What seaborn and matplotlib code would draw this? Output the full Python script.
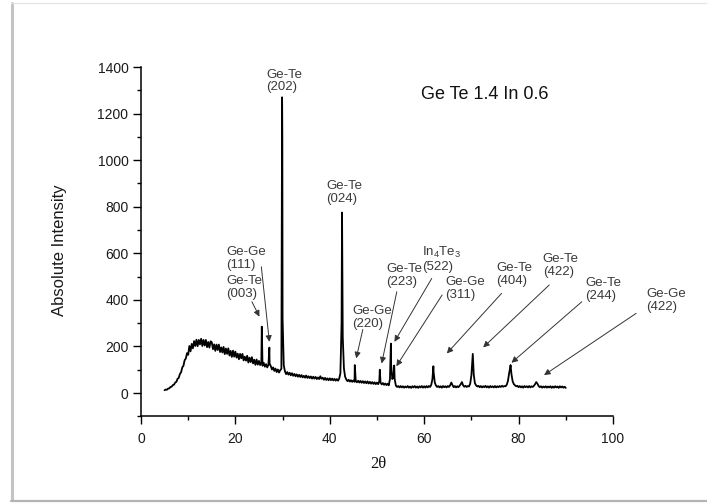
import numpy as np
import pandas as pd
import matplotlib
matplotlib.use("Agg")
import matplotlib.pyplot as plt
from matplotlib.lines import Line2D
from matplotlib.ticker import MultipleLocator
import seaborn as sns

# XRD scan: 5-90 deg 2-theta, 0.25 deg step
scan_start = 5.0
scan_step = 0.25
scan_counts = [
    12, 15, 14, 19, 20, 26, 27, 34, 36, 45, 48, 61, 65, 82, 89, 110, 117, 141, 148, 171,
    164, 202, 179, 211, 192, 223, 202, 229, 201, 228, 209, 233, 202, 228, 204, 228, 197, 219, 195, 222,
    218, 188, 209, 181, 208, 185, 208, 176, 196, 174, 198, 167, 191, 168, 192, 161, 181, 155, 182, 156,
    178, 152, 169, 145, 168, 149, 168, 140, 156, 139, 160, 131, 152, 133, 154, 127, 143, 121, 144, 122,
    138, 120, 133, 117, 130, 113, 124, 110, 121, 126, 116, 101, 110, 95, 105, 90, 101, 88, 98, 104,
    320, 120, 93, 81, 90, 79, 87, 76, 85, 74, 82, 72, 80, 70, 78, 69, 77, 67, 74, 66,
    75, 65, 72, 64, 71, 62, 70, 62, 69, 60, 67, 60, 72, 61, 66, 57, 65, 56, 63, 55,
    63, 55, 62, 54, 61, 53, 60, 53, 62, 85, 300, 240, 105, 70, 58, 51, 57, 49, 55, 48,
    54, 48, 52, 46, 53, 45, 52, 44, 51, 43, 50, 42, 50, 41, 48, 40, 47, 39, 46, 38,
    45, 38, 50, 45, 37, 43, 35, 41, 34, 40, 33, 60, 120, 60, 70, 60, 32, 26, 30, 24,
    30, 24, 29, 23, 28, 24, 30, 23, 28, 22, 29, 24, 30, 23, 28, 22, 29, 24, 30, 23,
    29, 23, 30, 24, 30, 26, 35, 60, 90, 45, 32, 26, 30, 24, 29, 23, 30, 25, 29, 24,
    30, 26, 33, 45, 34, 25, 30, 24, 29, 25, 31, 38, 47, 33, 27, 31, 26, 30, 28, 40,
    75, 150, 80, 42, 33, 28, 31, 25, 30, 24, 29, 25, 31, 24, 29, 23, 30, 25, 29, 24,
    30, 24, 29, 25, 30, 26, 31, 27, 30, 29, 36, 52, 85, 112, 80, 50, 38, 33, 29, 31,
    25, 30, 24, 29, 23, 30, 25, 29, 24, 30, 24, 29, 26, 31, 38, 47, 40, 30, 25, 29,
    23, 28, 24, 29, 23, 28, 24, 29, 22, 28, 23, 29, 24, 28, 22, 29, 24, 28, 23, 27, 22,
]

# Apex points of the sharp reflections
peak_2theta = [25.6, 27.2, 29.9, 29.95, 42.6, 45.3, 50.6, 52.95, 53.65, 61.95, 70.3, 78.3]
peak_counts = [285, 195, 1270, 1100, 775, 120, 100, 212, 118, 115, 168, 120]

# Phase / hkl labels
label_text = [
    "Ge-Te\n(202)", "Ge-Te\n(024)", "Ge-Ge\n(111)", "Ge-Te\n(003)", "Ge-Ge\n(220)",
    "Ge-Te\n(223)", "In$_\\mathregular{4}$Te$_\\mathregular{3}$\n(522)", "Ge-Ge\n(311)",
    "Ge-Te\n(404)", "Ge-Te\n(422)", "Ge-Te\n(244)", "Ge-Ge\n(422)",
]
label_x = [26.5, 39.2, 18.0, 18.0, 44.8, 52.0, 59.5, 64.5, 75.2, 85.1, 94.2, 107.1]
label_y = [1340, 862, 578, 452, 324, 504, 575, 448, 510, 547, 445, 396]

# Leader arrows: tail -> head
arrow_tail = [(25.5, 542), (23.5, 392), (47.0, 273), (54.2, 435), (61.6, 492),
              (63.8, 421), (76.4, 428), (86.5, 464), (93.4, 392), (104.9, 342)]
arrow_head = [(27.2, 220), (25.1, 328), (45.6, 149), (51.0, 127), (53.7, 220),
              (54.1, 115), (64.8, 170), (72.5, 196), (78.5, 130), (85.4, 77)]

sample_name = "Ge Te 1.4 In 0.6"

sns.set_style("ticks")
plt.rcParams["font.family"] = ["Liberation Sans", "DejaVu Sans"]
plt.rcParams["mathtext.fontset"] = "custom"
plt.rcParams["mathtext.rm"] = "Liberation Sans"
plt.rcParams["mathtext.it"] = "Liberation Sans:italic"

two_theta = scan_start + scan_step * np.arange(len(scan_counts))
df = pd.DataFrame({
    "two_theta": np.concatenate([two_theta, peak_2theta]),
    "intensity": np.concatenate([scan_counts, peak_counts]),
}).sort_values("two_theta")

fig = plt.figure(figsize=(7.07, 5.04), dpi=100)
ax = fig.add_axes([0.1994, 0.1740, 0.6676, 0.6930])

sns.lineplot(data=df, x="two_theta", y="intensity", estimator=None, sort=True,
             color="black", lw=1.3, ax=ax)

ax.set_xlim(0, 100)
ax.set_ylim(-100, 1400)
ax.xaxis.set_major_locator(MultipleLocator(20))
ax.xaxis.set_minor_locator(MultipleLocator(10))
ax.yaxis.set_major_locator(MultipleLocator(200))
ax.yaxis.set_minor_locator(MultipleLocator(100))
ax.tick_params(which="major", direction="out", length=6, width=1.0, labelsize=10,
               pad=3, color="black", labelcolor="#1a1a1a")
ax.tick_params(which="minor", direction="out", length=3, width=1.0, color="black")
ax.tick_params(axis="x", which="major", pad=5)
sns.despine(ax=ax)
for side in ("left", "bottom"):
    ax.spines[side].set_linewidth(1.1)
    ax.spines[side].set_color("black")

ax.set_xlabel("2\u03b8", family="Liberation Serif", fontsize=12, color="#111111")
ax.set_ylabel("Absolute Intensity", fontsize=12, color="#1a1a1a")
ax.xaxis.set_label_coords(0.502, -0.114)
ax.yaxis.set_label_coords(-0.157, 0.475)

ax.text(59.4, 1282, sample_name, fontsize=13, ha="left", va="center", color="#111111")

for txt, lx, ly in zip(label_text, label_x, label_y):
    ax.text(lx, ly, txt, fontsize=9.5, ha="left", va="center", color="#3a3a3a",
            linespacing=1.1, clip_on=False)

for tail, head in zip(arrow_tail, arrow_head):
    ax.annotate("", xy=head, xytext=tail, annotation_clip=False,
                arrowprops=dict(arrowstyle="-|>", color="#333333", lw=0.7,
                                mutation_scale=9, shrinkA=0, shrinkB=0))

# page frame around the figure
W, H = 707.0, 504.0
fig.add_artist(Line2D([11.5 / W, 11.5 / W], [1 - 3 / H, 1 - 500 / H], color="#c4c4c4", lw=2.2))
fig.add_artist(Line2D([11 / W, 1.0], [1 - 3.3 / H, 1 - 3.3 / H], color="#e2e2e2", lw=0.8))
fig.add_artist(Line2D([11 / W, 1.0], [1 - 500.5 / H, 1 - 500.5 / H], color="#b4b4b4", lw=1.6))

fig.savefig("out.png", dpi=100)
